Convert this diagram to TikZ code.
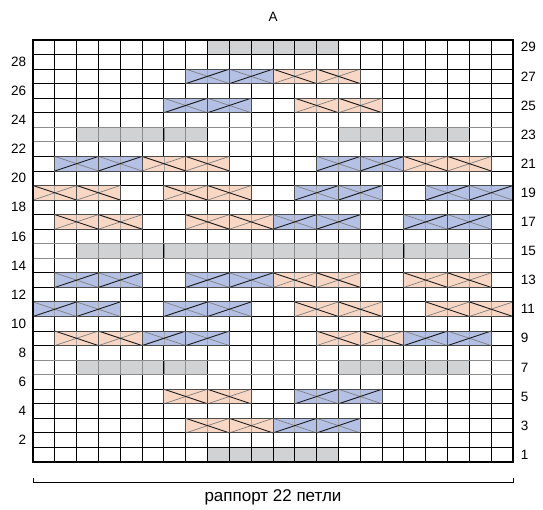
\documentclass[tikz,border=0pt]{standalone}
\usepackage{fontspec}
\setmainfont{Liberation Sans}
\usepackage{xcolor}
\usetikzlibrary{positioning}
\definecolor{CableBlue}{HTML}{B4C1E5}
\definecolor{CablePink}{HTML}{F9D7C5}
\definecolor{RowGray}{HTML}{D1D2D4}
\definecolor{SoftLine}{HTML}{8C8C8C}

\begin{document}
\begin{tikzpicture}[x=1pt, y=1pt,
    rownum/.style={font=\fontsize{13.5}{15}\selectfont, inner sep=0pt},
    gridline/.style={black, line width=0.9pt},
    frameline/.style={black, line width=1.8pt},
    grayrow/.style={SoftLine, line width=0.8pt},
    overline/.style={black!90, line width=0.9pt},
    underline/.style={black!50, line width=0.7pt},
    pairframe/.style={black!70, line width=0.9pt},
    pairmid/.style={black!35, line width=0.7pt}
]
\useasboundingbox (0,0) rectangle (543,509);

\begin{scope}[shift={(33pt,47pt)}, x=21.818pt, y=14.552pt]
    % grey rows
    \fill[RowGray] (8,0) rectangle (14,1);
    \fill[RowGray] (8,28) rectangle (14,29);
    \foreach \r in {6,22}{
        \fill[RowGray] (2,\r) rectangle (8,\r+1);
        \fill[RowGray] (14,\r) rectangle (20,\r+1);
    }
    \fill[RowGray] (2,14) rectangle (20,15);

    % grid
    \foreach \c in {1,...,21}
        \draw[gridline] (\c,0) -- (\c,29);
    \foreach \r in {1,...,28}
        \draw[gridline] (0,\r) -- (22,\r);

    % soft lines round the grey rows
    \foreach \r in {6,14,22}{
        \draw[grayrow] (0,\r) -- (22,\r) (0,\r+1) -- (22,\r+1);
    }
    \foreach \r in {6,22}{
        \foreach \c in {3,...,7,15,...,19}
            \draw[grayrow] (\c,\r) -- (\c,\r+1);
    }
    \foreach \c in {3,...,19}
        \draw[grayrow] (\c,14) -- (\c,15);

    % blue crossings
    \foreach \r/\c in {27/7, 25/6, 21/1, 21/13, 19/12, 19/18, 17/11, 17/17,
                       13/1, 13/7, 11/0, 11/6, 9/5, 9/17, 5/12, 3/11}{
        \foreach \k in {0,2}{
            \fill[CableBlue] (\c+\k,\r-1) rectangle ++(2,1);
            \draw[pairmid] (\c+\k+1,\r-1) -- ++(0,1);
            \draw[underline] (\c+\k,\r) -- ++(2,-1);
            \draw[overline] (\c+\k,\r-1) -- ++(2,1);
            \draw[pairframe] (\c+\k,\r-1) rectangle ++(2,1);
        }
    }

    % pink crossings
    \foreach \r/\c in {27/11, 25/12, 21/5, 21/17, 19/0, 19/6, 17/1, 17/7,
                       13/11, 13/17, 11/12, 11/18, 9/1, 9/13, 5/6, 3/7}{
        \foreach \k in {0,2}{
            \fill[CablePink] (\c+\k,\r-1) rectangle ++(2,1);
            \draw[pairmid] (\c+\k+1,\r-1) -- ++(0,1);
            \draw[underline] (\c+\k,\r-1) -- ++(2,1);
            \draw[overline] (\c+\k,\r) -- ++(2,-1);
            \draw[pairframe] (\c+\k,\r-1) rectangle ++(2,1);
        }
    }

    \draw[frameline] (0,0) rectangle (22,29);

    % row numbers
    \foreach \r in {2,4,...,28}
        \node[rownum, anchor=east] (left-\r) at (-0.3,\r-0.5) {\r};
    \foreach \r in {1,3,...,29}
        \node[rownum, anchor=west] (right-\r) at (22.35,\r-0.5) {\r};

    % repeat bracket
    \coordinate (br-left) at (0,-1.42);
    \coordinate (br-right) at (22,-1.42);
    \draw[black, line width=0.8pt] ([yshift=5pt]br-left) -- (br-left) -- (br-right) -- ([yshift=5pt]br-right);
\end{scope}

\node[rownum] (title) at (273,492) {A};
\node[font=\fontsize{17}{19}\selectfont, inner sep=0pt] (repeat) at (273,12) {раппорт 22 петли};
\end{tikzpicture}
\end{document}
